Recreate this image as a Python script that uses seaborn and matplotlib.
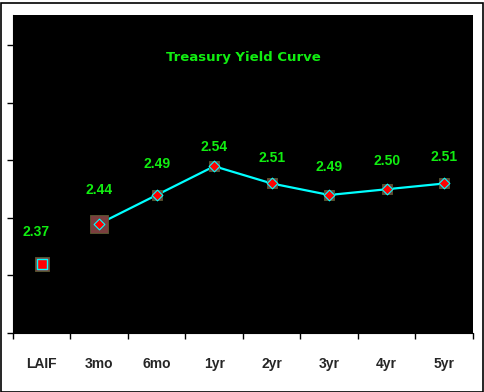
import matplotlib
matplotlib.use('Agg')
import matplotlib.pyplot as plt
import seaborn as sns
import pandas as pd
import numpy as np

# data
terms = ['LAIF', '3mo', '6mo', '1yr', '2yr', '3yr', '4yr', '5yr']
yields = [2.37, 2.44, 2.49, 2.54, 2.51, 2.49, 2.50, 2.51]
value_labels = ['2.37', '2.44', '2.49', '2.54', '2.51', '2.49', '2.50', '2.51']

df = pd.DataFrame({'term': terms, 'yld': yields})
df['pos'] = np.arange(len(terms))
curve = df[df.term != 'LAIF']

sns.set_style('white')
plt.rcParams['font.family'] = ['Liberation Sans', 'DejaVu Sans']

fig = plt.figure(figsize=(4.85, 3.92), dpi=100)
fig.patch.set_facecolor('white')
ax = fig.add_axes([13/485, 1 - 333/392, 460/485, 318/392])
ax.set_facecolor('black')

# yield curve line (3mo .. 5yr)
sns.lineplot(data=curve, x='pos', y='yld', color='#00ffff', linewidth=1.6, ax=ax, zorder=2)

# brown square backgrounds behind the markers
sns.scatterplot(data=df.iloc[2:], x='pos', y='yld', marker='s', s=60, color='#6e3c3c',
                edgecolor='#5a5a30', linewidth=0.6, ax=ax, zorder=3)
sns.scatterplot(data=df.iloc[:1], x='pos', y='yld', marker='s', s=110, color='#7a3e3e',
                edgecolor='#5a5a30', linewidth=0.6, ax=ax, zorder=3)
sns.scatterplot(data=df.iloc[1:2], x='pos', y='yld', marker='s', s=150, color='#7a3e3e',
                edgecolor='#5a5a30', linewidth=0.6, ax=ax, zorder=3)

# red markers with cyan edge
sns.scatterplot(data=df.iloc[1:], x='pos', y='yld', marker='D', s=30, color='#ff0000',
                edgecolor='#00ffff', linewidth=0.8, ax=ax, zorder=4)
sns.scatterplot(data=df.iloc[:1], x='pos', y='yld', marker='s', s=45, color='#ff0000',
                edgecolor='#00ffff', linewidth=1.0, ax=ax, zorder=4)

# value labels
offsets = [(-4, 23), (0, 24), (0, 22), (0, 14), (0, 18), (0, 20), (0, 20), (0, 19)]
for i, (v, lab) in enumerate(zip(yields, value_labels)):
    ax.annotate(lab, (i, v), xytext=offsets[i], textcoords='offset points',
                ha='center', va='center', color='#11ee11', fontsize=10, fontweight='bold')

ax.text(0.5, 0.865, 'Treasury Yield Curve', transform=ax.transAxes, ha='center', va='center',
        color='#11ee11', fontsize=9.5, fontweight='bold', family=['DejaVu Sans'])

ax.set_xlim(-0.5, 7.5)
ax.set_ylim(2.25, 2.803)
ax.set_xticks(np.arange(-0.5, 8, 1))
ax.set_xticks(np.arange(8), minor=True)
ax.set_xticklabels([])
ax.set_xticklabels(terms, minor=True)
ax.tick_params(axis='x', which='major', direction='out', length=4, width=1, color='black', bottom=True)
ax.tick_params(axis='x', which='minor', length=0, pad=17, labelsize=10)
for t in ax.get_xticklabels(minor=True):
    t.set_fontweight('bold')
ax.set_yticks(np.arange(2.25, 2.76, 0.1))
ax.set_yticklabels([])
ax.tick_params(axis='y', direction='out', length=4, width=1, color='black', left=True)
ax.set_xlabel('')
ax.set_ylabel('')
for s in ax.spines.values():
    s.set_visible(False)
ax.spines['left'].set_visible(True)
ax.spines['left'].set_color('black')
ax.spines['bottom'].set_visible(True)
ax.spines['bottom'].set_color('black')

# outer frame of the chart
fig.add_artist(plt.Rectangle((0.5/485, 0.5/392), 483/485, 389/392, transform=fig.transFigure,
                             fill=False, edgecolor='black', linewidth=1.2))

fig.savefig('out.png', dpi=100, facecolor='white')
